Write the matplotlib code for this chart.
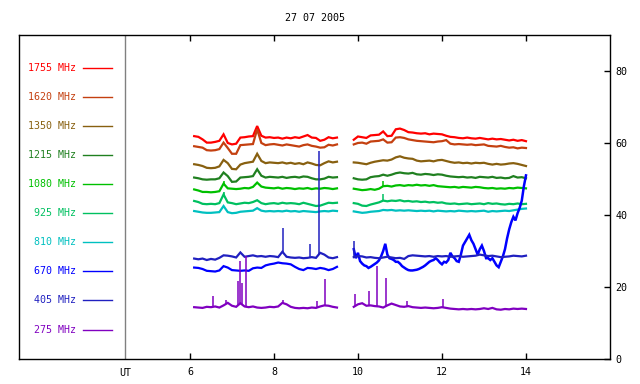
import numpy as np
import matplotlib
matplotlib.use("Agg")
import matplotlib.pyplot as plt

plt.rcParams['font.family'] = ['DejaVu Sans Mono']

title = "27 07 2005"
freqs = ["1755 MHz", "1620 MHz", "1350 MHz", "1215 MHz", "1080 MHz",
         "925 MHz", "810 MHz", "670 MHz", "405 MHz", "275 MHz"]
colors = ["#ff0000", "#c44010", "#886010", "#208020", "#00c000",
          "#00c060", "#00c0c0", "#0000ff", "#2020c0", "#8000c0"]
legend_y = [80.9, 72.8, 64.7, 56.7, 48.6, 40.5, 32.5, 24.4, 16.3, 8.2]

xticks = [6, 8, 10, 12, 14]
yticks = [0, 20, 40, 60, 80]

# time grids (UT hours)
t1 = [6.1, 6.2, 6.3, 6.4, 6.5, 6.6, 6.7, 6.8, 6.9, 7.0, 7.1, 7.2, 7.3, 7.4, 7.5,
      7.6, 7.7, 7.8, 7.9, 8.0, 8.1, 8.2, 8.3, 8.4, 8.5, 8.6, 8.7, 8.8, 8.9, 9.0,
      9.1, 9.2, 9.3, 9.4, 9.5]
t2 = [9.9, 10.0, 10.1, 10.2, 10.3, 10.4, 10.5, 10.6, 10.7, 10.8, 10.9, 11.0,
      11.1, 11.2, 11.3, 11.4, 11.5, 11.6, 11.7, 11.8, 11.9, 12.0, 12.1, 12.2,
      12.3, 12.4, 12.5, 12.6, 12.7, 12.8, 12.9, 13.0, 13.1, 13.2, 13.3, 13.4,
      13.5, 13.6, 13.7, 13.8, 13.9, 14.0]
t2_fine = [9.90, 9.95, 10.00, 10.05, 10.10, 10.15, 10.20, 10.25, 10.30, 10.35,
           10.40, 10.45, 10.50, 10.55, 10.60, 10.65, 10.70, 10.75, 10.80, 10.85,
           10.90, 10.95, 11.00, 11.05, 11.10, 11.15, 11.20, 11.25, 11.30, 11.35,
           11.40, 11.45, 11.50, 11.55, 11.60, 11.65, 11.70, 11.75, 11.80, 11.85,
           11.90, 11.95, 12.00, 12.05, 12.10, 12.15, 12.20, 12.25, 12.30, 12.35,
           12.40, 12.45, 12.50, 12.55, 12.60, 12.65, 12.70, 12.75, 12.80, 12.85,
           12.90, 12.95, 13.00, 13.05, 13.10, 13.15, 13.20, 13.25, 13.30, 13.35,
           13.40, 13.45, 13.50, 13.55, 13.60, 13.65, 13.70, 13.75, 13.80, 13.85,
           13.90, 13.95, 14.00]

s1755_a = [61.9, 61.7, 61.0, 60.1, 60.1, 60.3, 60.6, 62.4, 60.0, 59.6, 59.8, 61.5,
           61.6, 61.8, 61.9, 64.7, 62.0, 61.5, 61.6, 61.4, 61.5, 61.2, 61.5, 61.3,
           61.6, 61.4, 61.8, 62.2, 61.5, 61.4, 60.6, 60.9, 61.6, 61.3, 61.5]
s1755_b = [60.9, 61.8, 61.6, 61.4, 62.1, 62.2, 62.3, 63.2, 61.9, 62.0, 63.8, 64.0,
           63.6, 63.0, 62.9, 62.7, 62.6, 62.7, 62.4, 62.6, 62.5, 62.4, 62.0, 61.7,
           61.6, 61.4, 61.3, 61.5, 61.3, 61.2, 61.4, 61.2, 61.0, 61.2, 61.0, 61.1,
           60.9, 60.7, 60.9, 60.6, 60.8, 60.5]
s1620_a = [59.1, 58.9, 58.7, 58.0, 57.9, 58.0, 58.3, 60.1, 58.6, 57.0, 57.0, 59.4,
           59.5, 59.6, 59.7, 63.8, 60.0, 59.4, 59.6, 59.7, 59.5, 59.3, 59.6, 59.4,
           59.2, 59.0, 59.4, 59.6, 59.2, 59.0, 58.7, 58.8, 59.5, 59.3, 59.6]
s1620_b = [59.6, 60.0, 60.1, 59.8, 60.4, 60.5, 60.6, 61.0, 60.1, 60.2, 61.5, 61.6,
           61.4, 61.0, 60.8, 60.6, 60.5, 60.4, 60.3, 60.2, 60.4, 60.5, 60.8, 59.8,
           59.6, 59.7, 59.6, 59.5, 59.6, 59.4, 59.5, 59.6, 59.2, 59.1, 59.0, 59.2,
           58.9, 58.7, 58.8, 58.5, 58.7, 58.6]
s1350_a = [54.1, 53.9, 53.6, 53.1, 53.0, 53.1, 53.5, 55.3, 54.4, 52.8, 52.7, 54.0,
           54.4, 54.6, 54.8, 57.0, 55.0, 54.4, 54.6, 54.5, 54.4, 54.6, 54.3, 54.5,
           54.2, 54.4, 54.1, 54.6, 54.3, 53.9, 53.8, 54.4, 54.9, 54.6, 54.8]
s1350_b = [54.6, 54.5, 54.3, 54.1, 54.5, 54.8, 55.0, 55.2, 55.1, 55.4, 56.0, 56.3,
           55.9, 55.7, 55.6, 55.1, 54.9, 55.0, 55.1, 54.9, 55.2, 55.3, 55.0, 54.7,
           54.5, 54.6, 54.4, 54.5, 54.3, 54.5, 54.4, 54.5, 54.2, 54.0, 54.2, 54.0,
           54.1, 54.3, 54.4, 54.2, 53.9, 53.6]
s1215_a = [50.4, 50.2, 49.9, 49.8, 49.9, 49.9, 50.2, 51.8, 50.8, 49.2, 49.3, 50.4,
           50.5, 50.6, 50.8, 52.7, 50.9, 50.4, 50.6, 50.5, 50.4, 50.6, 50.3, 50.5,
           50.6, 50.4, 50.7, 50.6, 50.2, 49.9, 49.9, 50.1, 50.6, 50.4, 50.5]
s1215_b = [50.2, 49.9, 49.8, 49.9, 50.5, 50.7, 50.8, 51.2, 50.9, 51.2, 51.6, 51.8,
           51.6, 51.5, 51.7, 51.3, 51.2, 51.4, 51.3, 51.1, 51.3, 51.2, 50.9, 50.7,
           50.6, 50.5, 50.6, 50.4, 50.5, 50.3, 50.6, 50.5, 50.4, 50.6, 50.3, 50.4,
           50.2, 50.3, 50.8, 50.4, 50.5, 50.2]
s1080_a = [47.1, 46.8, 46.4, 46.4, 46.3, 46.4, 46.6, 48.7, 47.4, 47.3, 47.2, 47.3,
           47.5, 47.4, 47.8, 49.0, 47.9, 47.6, 47.5, 47.4, 47.6, 47.3, 47.5, 47.4,
           47.2, 47.4, 47.3, 47.5, 47.2, 47.4, 47.3, 47.5, 47.4, 47.2, 47.4]
s1080_b = [47.3, 47.1, 46.9, 47.0, 47.2, 47.0, 47.3, 48.0, 48.1, 47.9, 48.2, 48.3,
           48.1, 48.3, 48.2, 48.4, 48.2, 48.3, 48.1, 48.3, 48.0, 47.9, 47.8, 47.7,
           47.8, 47.6, 47.8, 47.7, 47.6, 47.8, 47.7, 47.5, 47.4, 47.5, 47.3, 47.4,
           47.3, 47.5, 47.4, 47.6, 47.5, 47.4]
s925_a = [43.9, 43.6, 43.1, 43.0, 43.1, 43.0, 43.3, 45.7, 43.5, 43.3, 43.0, 43.2,
          43.4, 43.3, 43.6, 44.1, 43.3, 43.0, 43.2, 43.3, 43.1, 43.4, 43.2, 43.3,
          43.2, 43.0, 43.4, 43.1, 42.8, 42.5, 42.6, 43.0, 43.4, 43.3, 43.4]
s925_b = [43.3, 43.1, 42.6, 42.5, 42.9, 43.2, 43.5, 44.0, 43.8, 44.0, 43.9, 44.1,
          43.8, 43.9, 43.7, 43.8, 43.6, 43.7, 43.5, 43.6, 43.4, 43.5, 43.2, 43.1,
          43.2, 43.0, 43.1, 43.2, 43.0, 43.1, 43.2, 43.0, 43.3, 43.1, 43.2, 43.0,
          42.9, 43.1, 43.0, 43.2, 43.0, 43.1]
s810_a = [41.1, 40.9, 40.7, 40.6, 40.6, 40.7, 40.8, 42.5, 40.8, 40.5, 40.6, 40.9,
          41.0, 41.1, 41.2, 41.9, 41.2, 41.0, 41.1, 41.0, 41.1, 41.0, 41.2, 41.0,
          41.1, 40.9, 41.1, 41.0, 40.9, 40.8, 41.0, 41.1, 41.0, 41.2, 41.1]
s810_b = [41.0, 40.8, 40.6, 40.7, 40.9, 41.0, 41.1, 41.4, 41.3, 41.4, 41.2, 41.3,
          41.2, 41.3, 41.2, 41.1, 41.2, 41.1, 41.2, 41.0, 41.2, 41.1, 41.0, 41.1,
          41.0, 41.2, 41.1, 41.0, 41.1, 41.0, 41.1, 41.2, 40.9, 41.1, 41.0, 41.1,
          41.2, 41.1, 41.3, 41.5, 41.7, 41.8]
s670_a = [25.4, 25.3, 25.0, 24.5, 24.4, 24.3, 24.6, 25.8, 25.4, 24.7, 24.6, 24.5,
          24.6, 24.5, 25.2, 25.4, 25.3, 26.0, 26.3, 26.5, 26.8, 26.6, 26.5, 26.3,
          25.6, 25.0, 24.7, 25.3, 25.2, 25.0, 25.3, 25.1, 24.7, 25.0, 25.6]
s670_b = [30.5, 28.0, 29.5, 27.2, 26.5, 26.0, 25.8, 25.3, 25.6, 26.0, 26.4, 26.8,
          27.4, 28.5, 30.0, 32.0, 29.0, 28.0, 27.8, 27.5, 27.0, 27.0, 26.5, 25.8,
          25.4, 25.0, 24.7, 24.6, 24.6, 24.7, 24.8, 25.0, 25.3, 25.6, 26.0, 26.5,
          27.0, 27.3, 27.5, 28.0, 27.5, 26.8, 26.3, 27.0, 26.8, 27.5, 29.5, 28.5,
          28.0, 27.2, 27.0, 29.0, 31.5, 32.5, 33.5, 34.5, 33.0, 32.0, 30.5, 29.0,
          30.5, 31.5, 30.0, 28.0, 28.0, 27.5, 28.0, 27.0, 26.0, 25.5, 27.0, 28.5,
          30.5, 33.5, 36.0, 38.0, 39.5, 38.5, 40.5, 42.0, 44.0, 48.0, 51.0]
s405_a = [27.9, 27.7, 27.9, 27.5, 27.8, 27.6, 28.1, 28.8, 28.7, 28.5, 28.2, 29.6,
          28.4, 28.6, 28.8, 28.5, 28.6, 28.4, 28.6, 28.5, 28.3, 29.8, 28.4, 28.2,
          28.1, 28.2, 28.0, 28.1, 28.3, 28.1, 29.5, 29.0, 28.2, 28.0, 28.3]
s405_b = [28.3, 28.6, 28.5, 28.2, 28.3, 28.1, 28.0, 28.2, 28.4, 28.2, 28.0, 28.1,
          27.8, 28.6, 28.8, 28.7, 28.6, 28.5, 28.6, 28.4, 28.6, 28.5, 28.6, 28.4,
          28.5, 28.6, 28.4, 28.5, 28.6, 28.7, 29.0, 28.8, 28.6, 28.7, 28.5, 28.3,
          28.4, 28.5, 28.7, 28.6, 28.5, 28.7]
s275_a = [14.4, 14.3, 14.2, 14.5, 14.4, 14.6, 14.3, 14.9, 15.6, 14.8, 14.5, 15.5,
          14.6, 14.4, 14.6, 14.3, 14.2, 14.3, 14.5, 14.4, 14.6, 15.6, 15.2, 14.5,
          14.2, 14.1, 14.2, 14.1, 14.3, 14.2, 14.6, 14.9, 14.8, 14.5, 14.3]
s275_b = [14.5, 15.2, 15.5, 14.8, 14.9, 14.7, 14.6, 14.3, 14.9, 15.4, 15.0, 14.6,
          14.5, 14.7, 14.4, 14.3, 14.2, 14.3, 14.2, 14.1, 14.2, 14.4, 14.2, 14.0,
          13.9, 13.8, 13.9, 13.8, 13.9, 13.8, 13.9, 14.1, 13.9, 14.2, 13.8, 13.7,
          13.9, 13.8, 14.0, 13.9, 14.0, 13.9]

# narrow bursts (time, peak value) per channel
spikes_275_t = [6.55, 6.85, 7.15, 7.19, 7.23, 7.33, 8.22, 9.03, 9.21,
                9.93, 10.27, 10.46, 10.67, 11.17, 12.03]
spikes_275_v = [17.5, 16.5, 21.7, 27.2, 21.2, 28.6, 16.5, 16.1, 22.2,
                18.1, 19.0, 25.8, 22.6, 16.1, 16.6]
spikes_405_t = [8.22, 8.86, 9.08, 9.9]
spikes_405_v = [36.5, 31.9, 57.8, 32.8]
spikes_925_t = [6.82, 10.6]
spikes_925_v = [46.5, 45.7]
spikes_1080_t = [6.82, 10.6]
spikes_1080_v = [49.5, 49.5]

series = [
    (s1755_a, s1755_b), (s1620_a, s1620_b), (s1350_a, s1350_b),
    (s1215_a, s1215_b), (s1080_a, s1080_b), (s925_a, s925_b),
    (s810_a, s810_b), (s670_a, s670_b), (s405_a, s405_b), (s275_a, s275_b),
]

fig = plt.figure(figsize=(6.4, 3.84), dpi=100)
ax = fig.add_axes([0.0297, 0.065, 0.9234, 0.844])
ax.set_xlim(1.93, 16.0)
ax.set_ylim(0, 90)

for i, (a, b) in enumerate(series):
    fine = len(b) == len(t2_fine)
    tb = t2_fine if fine else t2
    ax.plot(t1, a, color=colors[i], lw=1.6, solid_joinstyle='miter')
    ax.plot(tb, b, color=colors[i], lw=1.8 if fine else 1.6,
            solid_joinstyle='miter')

def draw_spikes(ts, vs, a, b, color):
    for t, v in zip(ts, vs):
        if t <= 9.7:
            base = np.interp(t, t1, a)
        else:
            base = np.interp(t, t2, b)
        ax.vlines(t, base, v, color=color, lw=1.1)

draw_spikes(spikes_275_t, spikes_275_v, s275_a, s275_b, colors[9])
draw_spikes(spikes_405_t, spikes_405_v, s405_a, s405_b, colors[8])
draw_spikes(spikes_925_t, spikes_925_v, s925_a, s925_b, colors[5])
draw_spikes(spikes_1080_t, spikes_1080_v, s1080_a, s1080_b, colors[4])

# legend column
for i, name in enumerate(freqs):
    ax.text(3.29, legend_y[i], name, color=colors[i], fontsize=7.2,
            ha='right', va='center')
    ax.plot([3.45, 4.14], [legend_y[i], legend_y[i]], color=colors[i], lw=1)

ax.axvline(4.45, color='#808080', lw=1)

ax.set_xticks(xticks)
ax.set_xticklabels([str(v) for v in xticks])
ax.set_yticks(yticks)
ax.set_yticklabels([str(v) for v in yticks])
ax.yaxis.tick_right()
ax.tick_params(axis='x', direction='in', top=True, bottom=True, length=4,
               width=1, labelsize=7.2, pad=6)
ax.tick_params(axis='y', direction='in', right=True, left=False, length=4,
               width=1, labelsize=7.2, pad=4)
for sp in ax.spines.values():
    sp.set_linewidth(1)
    sp.set_color('black')

ax.text(4.45, -2.4, "UT", fontsize=7.2, ha='center', va='top')
fig.text(0.492, 0.953, title, fontsize=7.2, ha='center', va='center')

fig.savefig("out.png", dpi=100)
